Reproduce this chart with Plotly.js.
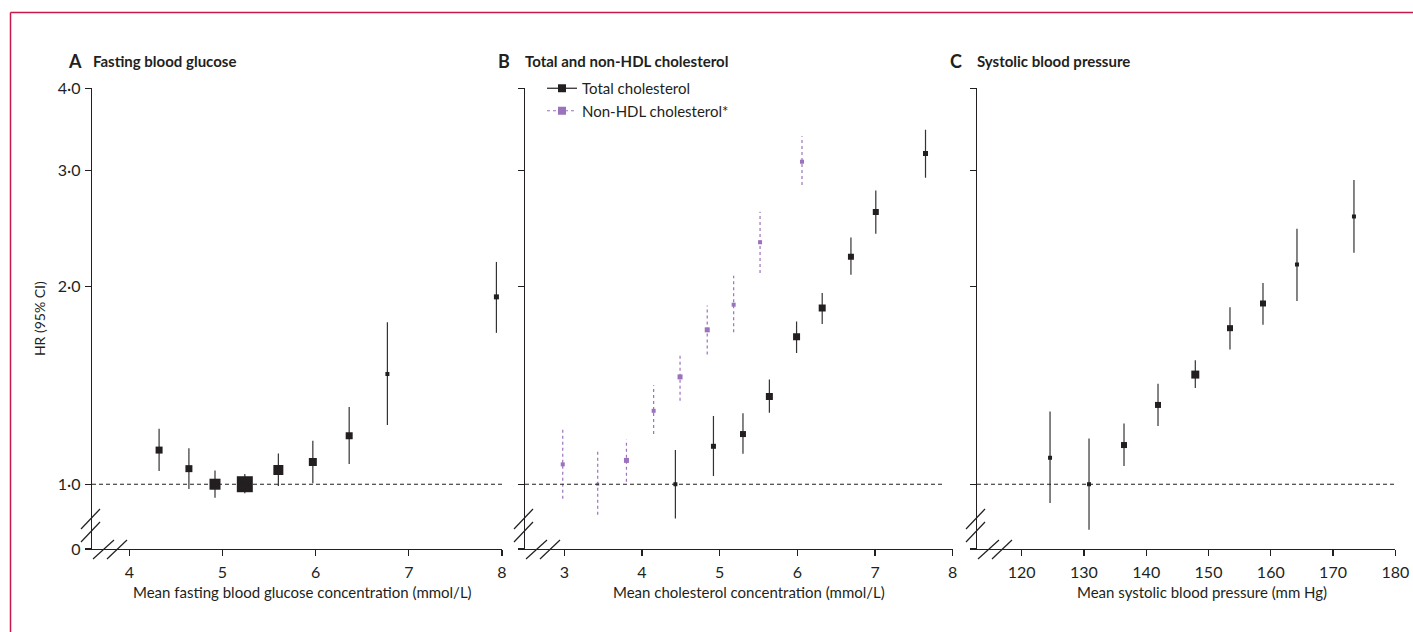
<!DOCTYPE html>
<html>
<head>
<meta charset="utf-8">
<script src="https://cdn.plot.ly/plotly-3.0.1.min.js"></script>
<style>
html,body{margin:0;padding:0;background:#fff;}
#chart{width:1413px;height:632px;}
</style>
</head>
<body>
<div id="chart"></div>
<script>
// ---------------- Data ----------------
// A: fasting blood glucose
const glucoseX  = [4.32, 4.64, 4.92, 5.24, 5.60, 5.97, 6.36, 6.77, 7.94];
const glucoseHR = [1.127, 1.056, 1.000, 1.000, 1.051, 1.081, 1.185, 1.471, 1.927];
const glucoseLo = [1.047, 0.983, 0.954, 0.969, 0.994, 1.003, 1.073, 1.230, 1.699];
const glucoseHi = [1.214, 1.134, 1.049, 1.036, 1.114, 1.164, 1.311, 1.763, 2.178];
const glucoseWeight = [7, 7, 11, 16, 10, 8, 7, 4, 5];

// B: total cholesterol
const totalX  = [4.43, 4.92, 5.30, 5.64, 5.99, 6.32, 6.69, 7.01, 7.65];
const totalHR = [1.000, 1.142, 1.192, 1.359, 1.676, 1.854, 2.218, 2.594, 3.184];
const totalLo = [0.887, 1.029, 1.113, 1.284, 1.583, 1.753, 2.083, 2.403, 2.924];
const totalHi = [1.127, 1.270, 1.282, 1.443, 1.768, 1.953, 2.372, 2.797, 3.461];
const totalWeight = [4, 5, 6, 7, 7, 7, 6, 6, 5];

// B: non-HDL cholesterol
const nonHdlX  = [2.98, 3.43, 3.80, 4.15, 4.49, 4.84, 5.18, 5.52, 6.06];
const nonHdlHR = [1.072, 1.000, 1.087, 1.293, 1.456, 1.717, 1.875, 2.334, 3.093];
const nonHdlLo = [0.950, 0.899, 1.009, 1.192, 1.339, 1.575, 1.703, 2.095, 2.850];
const nonHdlHi = [1.212, 1.120, 1.170, 1.414, 1.583, 1.869, 2.075, 2.596, 3.381];
const nonHdlWeight = [4, 3, 5, 4, 5, 5, 4, 4, 4];

// C: systolic blood pressure
const sbpX  = [124.55, 130.81, 136.43, 141.89, 147.88, 153.45, 158.75, 164.21, 173.36];
const sbpHR = [1.097, 1.000, 1.147, 1.320, 1.468, 1.727, 1.883, 2.159, 2.553];
const sbpLo = [0.936, 0.853, 1.066, 1.226, 1.401, 1.603, 1.748, 1.899, 2.249];
const sbpHi = [1.290, 1.174, 1.237, 1.422, 1.543, 1.859, 2.023, 2.447, 2.901];
const sbpWeight = [4, 4, 6, 6, 8, 6, 6, 4, 4];

// Axis ticks
const hrTickVals = [0.797, 1, 2, 3, 4];
const hrTickText = ["0", "1\u00b70", "2\u00b70", "3\u00b70", "4\u00b70"];
const glucoseTicks = [4, 5, 6, 7, 8];
const cholTicks = [3, 4, 5, 6, 7, 8];
const sbpTicks = [120, 130, 140, 150, 160, 170, 180];

const seriesNames = ["Total cholesterol", "Non-HDL cholesterol*"];
const panelLetters = ["A", "B", "C"];
const panelTitles = ["Fasting blood glucose", "Total and non-HDL cholesterol", "Systolic blood pressure"];
const xTitles = ["Mean fasting blood glucose concentration (mmol/L)",
                 "Mean cholesterol concentration (mmol/L)",
                 "Mean systolic blood pressure (mm Hg)"];
const yTitle = "HR (95% CI)";

// ---------------- Styling / layout ----------------
const W = 1413, H = 632;
const INK = "#231f20";
const PURPLE = "#9b72bd";
const FONT = "Lato, 'Open Sans', sans-serif";
const px = v => v / W;
const py = v => 1 - v / H;

function ciLines(x, lo, hi) {
  const xs = [], ys = [];
  for (let i = 0; i < x.length; i++) {
    xs.push(x[i], x[i], null);
    ys.push(lo[i], hi[i], null);
  }
  return {x: xs, y: ys};
}

function ciTrace(x, lo, hi, xa, ya, color, dash) {
  const c = ciLines(x, lo, hi);
  return {x: c.x, y: c.y, xaxis: xa, yaxis: ya, mode: "lines", type: "scatter",
          line: {color: color, width: 1.2, dash: dash}, showlegend: false, hoverinfo: "skip"};
}
function ptTrace(x, y, sizes, xa, ya, color) {
  return {x: x, y: y, xaxis: xa, yaxis: ya, mode: "markers", type: "scatter",
          marker: {symbol: "square", size: sizes, color: color, opacity: 1, line: {width: 0}},
          showlegend: false};
}

const traces = [
  ciTrace(glucoseX, glucoseLo, glucoseHi, "x", "y", "#333", "solid"),
  ptTrace(glucoseX, glucoseHR, glucoseWeight, "x", "y", INK),
  ciTrace(nonHdlX, nonHdlLo, nonHdlHi, "x2", "y2", PURPLE, "3px,3px"),
  ptTrace(nonHdlX, nonHdlHR, nonHdlWeight, "x2", "y2", PURPLE),
  ciTrace(totalX, totalLo, totalHi, "x2", "y2", "#333", "solid"),
  ptTrace(totalX, totalHR, totalWeight, "x2", "y2", INK),
  ciTrace(sbpX, sbpLo, sbpHi, "x3", "y3", "#333", "solid"),
  ptTrace(sbpX, sbpHR, sbpWeight, "x3", "y3", INK),
  // legend entries (no data)
  {x: [null], y: [null], xaxis: "x2", yaxis: "y2", type: "scatter", mode: "lines+markers",
   name: seriesNames[0], line: {color: INK, width: 1.2},
   marker: {symbol: "square", size: 8, color: INK}},
  {x: [null], y: [null], xaxis: "x2", yaxis: "y2", type: "scatter", mode: "lines+markers",
   name: seriesNames[1], line: {color: PURPLE, width: 1.2, dash: "3px,3px"},
   marker: {symbol: "square", size: 8, color: PURPLE}}
];

const yRange = [-0.0985, Math.log10(4)];
function yAxis(showLabels, anchor) {
  return {
    type: "log", range: yRange, domain: [py(549), py(88.3)], anchor: anchor,
    tickvals: hrTickVals, ticktext: hrTickText, showticklabels: showLabels,
    showline: true, linecolor: INK, linewidth: 1.3, ticks: "outside", ticklen: 6,
    tickwidth: 1.3, tickcolor: INK, showgrid: false, zeroline: false,
    tickfont: {family: FONT, size: 16, color: INK}, ticklabelstandoff: 1
  };
}
function xAxis(domain, range, ticks, anchor) {
  return {
    domain: domain, range: range, anchor: anchor, tickvals: ticks,
    showline: true, linecolor: INK, linewidth: 1.3, ticks: "outside", ticklen: 6,
    tickwidth: 1.3, tickcolor: INK, showgrid: false, zeroline: false,
    tickfont: {family: FONT, size: 16, color: INK}, ticklabelstandoff: 2
  };
}

const xLeft = [92, 525, 977];
const xRight = [502, 952.7, 1395.3];

const yA = yAxis(true, "x");
yA.title = {text: yTitle, font: {family: FONT, size: 14, color: INK}, standoff: 9};

const shapes = [];
// reference lines at HR = 1
const refEnds = [1, 0.98, 1];
["x", "x2", "x3"].forEach((xa, i) => {
  const ya = "y" + (i === 0 ? "" : (i + 1));
  shapes.push({type: "line", xref: xa + " domain", yref: ya, x0: 0, x1: refEnds[i], y0: 1, y1: 1,
               line: {color: INK, width: 1.1, dash: "4px,3px"}});
});
// axis break marks
xLeft.forEach(x0 => {
  const d = x0 - 92;
  [[81, 529, 100, 509], [81, 542, 100, 522], [93, 559, 114, 540], [107, 559, 127, 540]].forEach(s => {
    shapes.push({type: "line", xref: "paper", yref: "paper",
                 x0: px(s[0] + d), y0: py(s[1]), x1: px(s[2] + d), y1: py(s[3]),
                 line: {color: INK, width: 1.2}});
  });
});
// page frame (top and left rules)
shapes.push({type: "line", xref: "paper", yref: "paper", x0: px(10.5), x1: 1, y0: py(12.5), y1: py(12.5),
             line: {color: "#c8174a", width: 1.5}});
shapes.push({type: "line", xref: "paper", yref: "paper", x0: px(10.5), x1: px(10.5), y0: py(12.5), y1: 0,
             line: {color: "#c8174a", width: 1.5}});

const annotations = [];
const letterX = [66, 496, 948];
const titleX = [91, 523, 975];
const xTitleCenter = [302.5, 749.5, 1201.7];
for (let i = 0; i < 3; i++) {
  annotations.push({xref: "paper", yref: "paper", x: px(letterX[i]), y: py(61), xanchor: "left", yanchor: "middle",
                    text: "<b>" + panelLetters[i] + "</b>", showarrow: false,
                    font: {family: FONT, size: 18, color: INK}});
  annotations.push({xref: "paper", yref: "paper", x: px(titleX[i]), y: py(61), xanchor: "left", yanchor: "middle",
                    text: "<b>" + panelTitles[i] + "</b>", showarrow: false,
                    font: {family: FONT, size: 15, color: INK}});
  annotations.push({xref: "paper", yref: "paper", x: px(xTitleCenter[i]), y: py(592), xanchor: "center", yanchor: "middle",
                    text: xTitles[i], showarrow: false,
                    font: {family: FONT, size: 15, color: INK}});
}

const layout = {
  width: W, height: H,
  margin: {l: 0, r: 0, t: 0, b: 0},
  paper_bgcolor: "#fff", plot_bgcolor: "rgba(0,0,0,0)",
  font: {family: FONT, color: INK},
  showlegend: true,
  legend: {x: px(542), y: py(72), xanchor: "left", yanchor: "top", bgcolor: "rgba(0,0,0,0)",
           font: {family: FONT, size: 15, color: INK}, tracegroupgap: 0, itemwidth: 30},
  xaxis: xAxis([px(xLeft[0]), px(xRight[0])], [3.6, 8], glucoseTicks, "y"),
  xaxis2: xAxis([px(xLeft[1]), px(xRight[1])], [2.494, 8], cholTicks, "y2"),
  xaxis3: xAxis([px(xLeft[2]), px(xRight[2])], [112.82, 180], sbpTicks, "y3"),
  yaxis: yA,
  yaxis2: yAxis(false, "x2"),
  yaxis3: yAxis(false, "x3"),
  shapes: shapes,
  annotations: annotations
};

Plotly.newPlot("chart", traces, layout, {displayModeBar: false, staticPlot: true});
</script>
</body>
</html>
